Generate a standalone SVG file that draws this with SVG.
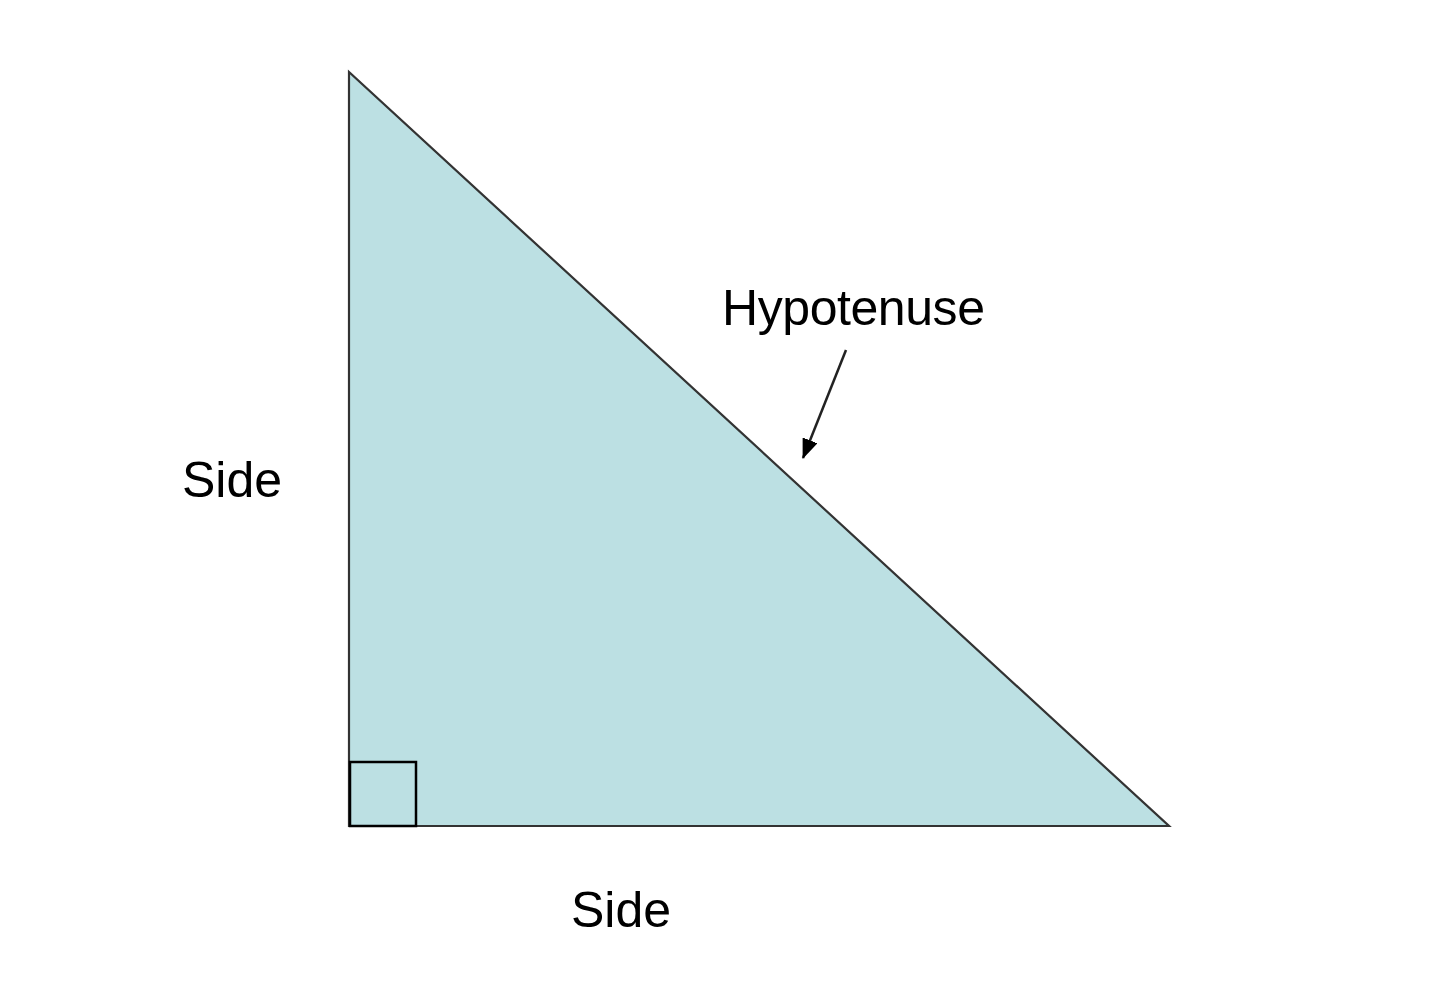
<svg xmlns="http://www.w3.org/2000/svg" width="1440" height="1006" viewBox="0 0 1440 1006">
<style>
.lbl{font-family:"Liberation Sans",Arial,sans-serif;font-size:50px;fill:#000}
</style>
<defs>
<marker id="ah" markerWidth="20" markerHeight="16" refX="19" refY="8" orient="auto" markerUnits="userSpaceOnUse" viewBox="0 0 20 16">
<path d="M0,0 L20,8 L0,16 Z" fill="#000"/>
</marker>
</defs>
<rect width="1440" height="1006" fill="#fff"/>
<g id="triangle">
<polygon points="349,72 349,826 1169,826" fill="#bce0e3" stroke="#333" stroke-width="2.2" stroke-linejoin="miter"/>
<rect x="350" y="762" width="66" height="64" fill="none" stroke="#000" stroke-width="2.5"/>
</g>
<g id="labels">
<text class="lbl" x="722" y="325" textLength="263">Hypotenuse</text>
<text class="lbl" x="182" y="497">Side</text>
<text class="lbl" x="571" y="927">Side</text>
</g>
<g id="connectors">
<line x1="846" y1="350" x2="803" y2="458" stroke="#222" stroke-width="2.5" marker-end="url(#ah)"/>
</g>
</svg>
